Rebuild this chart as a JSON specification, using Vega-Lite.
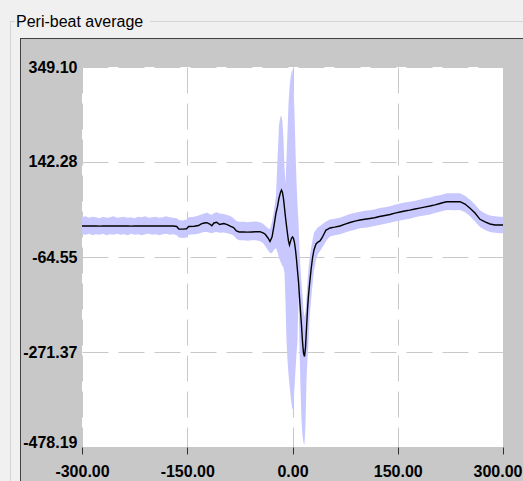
{
"$schema": "https://vega.github.io/schema/vega-lite/v6.json",
"background": "#c8c8c8",
"autosize": {"type": "pad"},
"padding": 0,
"config": {"view": {"stroke": null}, "concat": {"spacing": 0}},
"spacing": 0,
"bounds": "flush",
"vconcat": [
 {"width": 523, "height": 21, "data": {"values": []}, "mark": "point", "view": {"fill": "#f0f0f0"}},
 {"spacing": 0, "bounds": "flush", "hconcat": [
   {"width": 10, "height": 1, "data": {"values": []}, "mark": "point", "view": {"fill": "#f0f0f0"}},
   {"width": 5, "height": 1, "data": {"values": []}, "mark": "point", "view": {"fill": "#d4d4d4"}},
   {"width": 135, "height": 1, "data": {"values": []}, "mark": "point", "view": {"fill": "#f0f0f0"}},
   {"width": 373, "height": 1, "data": {"values": []}, "mark": "point", "view": {"fill": "#d4d4d4"}}
 ]},
 {"width": 1, "height": 1, "data": {"values": []}, "mark": "point"},
 {"spacing": 0, "bounds": "flush", "hconcat": [
   {"width": 10, "height": 16, "data": {"values": []}, "mark": "point", "view": {"fill": "#f0f0f0"}},
   {"width": 1, "height": 16, "data": {"values": []}, "mark": "point", "view": {"fill": "#d4d4d4"}},
   {"width": 512, "height": 16, "data": {"values": []}, "mark": "point", "view": {"fill": "#f0f0f0"},
    "title": {"text": "Peri-beat average", "anchor": "start", "frame": "group", "orient": "top", "offset": -21, "baseline": "alphabetic", "dx": 5, "font": "Liberation Sans", "fontSize": 16, "fontWeight": "normal", "color": "#000000", "zindex": 1}}
 ]},
 {"width": 1, "height": 16, "data": {"values": []}, "mark": "point"},
 {"spacing": 0, "bounds": "flush", "hconcat": [
   {"width": 10, "height": 1, "data": {"values": []}, "mark": "point", "view": {"fill": "#f0f0f0"}},
   {"width": 1, "height": 1, "data": {"values": []}, "mark": "point", "view": {"fill": "#d4d4d4"}},
   {"width": 9, "height": 1, "data": {"values": []}, "mark": "point", "view": {"fill": "#f0f0f0"}},
   {"width": 503, "height": 1, "data": {"values": []}, "mark": "point", "view": {"fill": "#404040"}}
 ]},
 {"width": 1, "height": 1, "data": {"values": []}, "mark": "point"},
 {"spacing": 0, "bounds": "flush", "hconcat": [
   {"width": 10, "height": 442, "data": {"values": []}, "mark": "point", "view": {"fill": "#f0f0f0"}},
   {"width": 1, "height": 442, "data": {"values": []}, "mark": "point", "view": {"fill": "#d4d4d4"}},
   {"width": 9, "height": 442, "data": {"values": []}, "mark": "point", "view": {"fill": "#f0f0f0"}},
   {"width": 1, "height": 442, "data": {"values": []}, "mark": "point", "view": {"fill": "#404040"}},
   {"spacing": 0, "bounds": "flush", "vconcat": [
     {"width": 502, "height": 28, "data": {"values": []}, "mark": "point"},
     {"spacing": 0, "bounds": "flush", "hconcat": [
       {"width": 61, "height": 380, "data": {"values": []}, "mark": "point"},
       {"width": 421, "height": 380, "view": {"fill": "#ffffff"},
        "data": {"values": [
{"t":-300,"m":3.0,"hi":22,"lo":-15},{"t":-295,"m":3.2,"hi":24,"lo":-16},{"t":-290,"m":2.9,"hi":21,"lo":-14},{"t":-285,"m":3.1,"hi":23,"lo":-17},
{"t":-280,"m":3.0,"hi":22,"lo":-15},{"t":-275,"m":2.6,"hi":20,"lo":-16},{"t":-270,"m":3.3,"hi":23,"lo":-14},{"t":-265,"m":3.0,"hi":21,"lo":-17},
{"t":-260,"m":2.8,"hi":22,"lo":-15},{"t":-255,"m":3.1,"hi":24,"lo":-16},{"t":-250,"m":3.0,"hi":21,"lo":-14},{"t":-245,"m":2.9,"hi":22,"lo":-16},
{"t":-240,"m":3.2,"hi":23,"lo":-15},{"t":-235,"m":3.0,"hi":21,"lo":-17},{"t":-230,"m":2.7,"hi":22,"lo":-14},{"t":-225,"m":3.0,"hi":20,"lo":-16},
{"t":-220,"m":3.1,"hi":23,"lo":-15},{"t":-215,"m":2.9,"hi":22,"lo":-17},{"t":-210,"m":3.0,"hi":24,"lo":-15},{"t":-205,"m":3.2,"hi":21,"lo":-14},
{"t":-200,"m":3.0,"hi":22,"lo":-16},{"t":-195,"m":2.8,"hi":23,"lo":-15},{"t":-190,"m":3.0,"hi":21,"lo":-17},{"t":-185,"m":3.1,"hi":22,"lo":-15},
{"t":-180,"m":2.9,"hi":24,"lo":-14},{"t":-175,"m":3.0,"hi":22,"lo":-16},{"t":-170,"m":2.8,"hi":21,"lo":-15},{"t":-165,"m":2.0,"hi":20,"lo":-17},
{"t":-162,"m":-3.5,"hi":16,"lo":-22},{"t":-156,"m":-3.8,"hi":15,"lo":-23},{"t":-151,"m":-3.0,"hi":17,"lo":-22},{"t":-148,"m":2.0,"hi":22,"lo":-16},
{"t":-140,"m":2.5,"hi":23,"lo":-15},{"t":-134,"m":4.0,"hi":26,"lo":-14},{"t":-130,"m":7.5,"hi":28,"lo":-12},{"t":-126,"m":9.5,"hi":30,"lo":-10},
{"t":-122,"m":10.1,"hi":32,"lo":-10},{"t":-118,"m":7.3,"hi":29,"lo":-12},{"t":-115,"m":3.6,"hi":27,"lo":-13},{"t":-112,"m":9.5,"hi":31,"lo":-11},
{"t":-108,"m":11.0,"hi":33,"lo":-10},{"t":-104,"m":6.2,"hi":30,"lo":-12},{"t":-98,"m":8.4,"hi":29,"lo":-11},{"t":-93,"m":6.0,"hi":27,"lo":-13},
{"t":-88,"m":2.0,"hi":24,"lo":-15},{"t":-84,"m":-0.3,"hi":20,"lo":-18},{"t":-80,"m":-7.9,"hi":14,"lo":-25},{"t":-76,"m":-10.0,"hi":12,"lo":-28},
{"t":-70,"m":-10.1,"hi":12,"lo":-28},{"t":-64,"m":-10.3,"hi":11,"lo":-29},{"t":-58,"m":-10.0,"hi":12,"lo":-28},{"t":-52,"m":-9.6,"hi":13,"lo":-28},
{"t":-46.3,"m":-9.5,"hi":11,"lo":-30},{"t":-42,"m":-12.0,"hi":8,"lo":-34},{"t":-39.2,"m":-14.5,"hi":4,"lo":-40},{"t":-34.9,"m":-23.2,"hi":-2,"lo":-50},
{"t":-32.1,"m":-30.8,"hi":-4,"lo":-56},{"t":-29.2,"m":-21.0,"hi":12,"lo":-56},{"t":-26.4,"m":3.0,"hi":38,"lo":-49},{"t":-23.5,"m":31.3,"hi":70,"lo":-45},
{"t":-21.4,"m":45,"hi":147,"lo":-54},{"t":-19.2,"m":64,"hi":223,"lo":-67},{"t":-17.1,"m":76,"hi":242,"lo":-75},{"t":-15.7,"m":81.3,"hi":242,"lo":-80},
{"t":-14.3,"m":76,"hi":230,"lo":-84},{"t":-12.8,"m":62,"hi":190,"lo":-88},{"t":-11.4,"m":42.1,"hi":130,"lo":-100},{"t":-10.0,"m":22,"hi":95,"lo":-160},
{"t":-8.6,"m":4,"hi":147,"lo":-245},{"t":-7.1,"m":-14,"hi":210,"lo":-290},{"t":-5.7,"m":-30,"hi":270,"lo":-320},{"t":-4.3,"m":-38.4,"hi":303,"lo":-343},
{"t":-2.8,"m":-30,"hi":325,"lo":-365},{"t":-1.4,"m":-24,"hi":338,"lo":-385},{"t":0.0,"m":-21.0,"hi":345,"lo":-398},{"t":1.4,"m":-24,"hi":310,"lo":-385},
{"t":2.8,"m":-33,"hi":250,"lo":-350},{"t":4.3,"m":-49.3,"hi":168,"lo":-310},{"t":5.7,"m":-70,"hi":100,"lo":-275},{"t":7.1,"m":-94,"hi":50,"lo":-250},
{"t":8.6,"m":-119,"hi":10,"lo":-150},{"t":10.0,"m":-152,"hi":-50,"lo":-260},{"t":11.4,"m":-183,"hi":-90,"lo":-350},{"t":12.8,"m":-212.5,"hi":-120,"lo":-420},
{"t":14.3,"m":-250,"hi":-150,"lo":-455},{"t":15.7,"m":-274,"hi":-180,"lo":-470},{"t":17.1,"m":-281,"hi":-195,"lo":-472},{"t":18.5,"m":-262,"hi":-185,"lo":-430},
{"t":20.0,"m":-218,"hi":-150,"lo":-330},{"t":21.4,"m":-178,"hi":-115,"lo":-285},{"t":22.8,"m":-148,"hi":-90,"lo":-250},{"t":24.2,"m":-125.5,"hi":-70,"lo":-200},
{"t":26.4,"m":-92.8,"hi":-45,"lo":-160},{"t":28.5,"m":-66.7,"hi":-28,"lo":-125},{"t":30.6,"m":-49.3,"hi":-12,"lo":-95},{"t":33.5,"m":-36.2,"hi":-5,"lo":-70},
{"t":36.3,"m":-31.9,"hi":0,"lo":-58},{"t":39.2,"m":-29.7,"hi":3,"lo":-52},{"t":42.0,"m":-23.2,"hi":6,"lo":-45},{"t":44.9,"m":-14.5,"hi":10,"lo":-38},
{"t":47.7,"m":-5.8,"hi":13,"lo":-30},{"t":50.6,"m":-3.6,"hi":15,"lo":-24},{"t":53.4,"m":-1.4,"hi":17,"lo":-20},{"t":60,"m":0.5,"hi":19,"lo":-17},
{"t":67.7,"m":3.0,"hi":21,"lo":-15},{"t":75,"m":7,"hi":25,"lo":-11},{"t":81.9,"m":10.6,"hi":29,"lo":-8},{"t":89,"m":13.5,"hi":32,"lo":-5},
{"t":96.2,"m":16.0,"hi":34,"lo":-2},{"t":103,"m":17.5,"hi":36,"lo":-1},{"t":110.4,"m":19.3,"hi":37,"lo":1},{"t":117,"m":21,"hi":39,"lo":3},
{"t":124,"m":23.5,"hi":42,"lo":5},{"t":131.8,"m":25.8,"hi":44,"lo":8},{"t":139,"m":28,"hi":46,"lo":10},{"t":146,"m":31,"hi":49,"lo":13},
{"t":153.2,"m":33.4,"hi":52,"lo":15},{"t":160,"m":35.5,"hi":54,"lo":17},{"t":167,"m":37.5,"hi":56,"lo":19},{"t":174.6,"m":40.0,"hi":58,"lo":22},
{"t":181,"m":42,"hi":60,"lo":24},{"t":188,"m":44,"hi":63,"lo":26},{"t":196.0,"m":46.5,"hi":65,"lo":28},{"t":203,"m":49,"hi":68,"lo":31},
{"t":210.2,"m":51.9,"hi":70,"lo":34},{"t":215,"m":54,"hi":72,"lo":36},{"t":220.2,"m":55.8,"hi":74,"lo":38},{"t":230,"m":55.8,"hi":74,"lo":37},
{"t":238.7,"m":55.8,"hi":74,"lo":38},{"t":245.9,"m":50.8,"hi":69,"lo":33},{"t":253.0,"m":41.5,"hi":60,"lo":24},{"t":260.1,"m":31.3,"hi":50,"lo":13},
{"t":267.2,"m":17.5,"hi":37,"lo":1},{"t":274.4,"m":11.7,"hi":30,"lo":-6},{"t":281.5,"m":7.3,"hi":26,"lo":-10},{"t":288.6,"m":5.1,"hi":24,"lo":-12},
{"t":295,"m":5.1,"hi":23,"lo":-13},{"t":300,"m":5.1,"hi":23,"lo":-13}
        ]},
        "encoding": {
          "x": {"field": "t", "type": "quantitative", "scale": {"domain": [-300, 300], "nice": false, "zero": false},
            "axis": {"values": [-300, -150, 0, 150, 300], "format": ".2f", "labelExpr": "replace(datum.label, '\u2212', '-')", "title": null, "domain": false,
              "grid": true, "gridColor": "#c8c8c8", "gridDash": [26, 10], "gridWidth": 1,
              "ticks": true, "tickSize": 7, "tickColor": "#303030", "tickWidth": 1,
              "labelFont": "Liberation Sans", "labelFontSize": 16, "labelFontWeight": "bold", "labelColor": "#000000",
              "labelPadding": 9, "labelFlush": false, "labelOverlap": false,
              "labelAlign": {"condition": {"test": "datum.value > 250", "value": "right"}, "value": "center"},
              "labelOffset": {"condition": {"test": "datum.value > 250", "value": 19}, "value": 0}}}
        },
        "layer": [
          {"mark": {"type": "area", "color": "#c8c8ff", "opacity": 1},
           "encoding": {
             "y": {"field": "hi", "type": "quantitative", "scale": {"domain": [-478.19, 349.1], "nice": false, "zero": false},
               "axis": {"values": [349.1, 142.28, -64.55, -271.37, -478.19], "format": ".2f", "labelExpr": "replace(datum.label, '\u2212', '-')", "title": null, "domain": false,
                 "ticks": false, "tickSize": 0, "grid": true, "gridColor": "#c8c8c8", "gridDash": [26, 10], "gridWidth": 1,
                 "labelFont": "Liberation Sans", "labelFontSize": 16, "labelFontWeight": "bold", "labelColor": "#000000",
                 "labelPadding": 5, "labelFlush": false, "labelOverlap": false,
                 "labelBaseline": {"condition": {"test": "datum.value < -400", "value": "alphabetic"}, "value": "middle"}}},
             "y2": {"field": "lo"}
           }},
          {"mark": {"type": "line", "color": "#000000", "strokeWidth": 1.4},
           "encoding": {
             "y": {"field": "m", "type": "quantitative", "scale": {"domain": [-478.19, 349.1], "nice": false, "zero": false}}
           }}
        ]
       }
     ]}
   ]}
 ]}
]
}
